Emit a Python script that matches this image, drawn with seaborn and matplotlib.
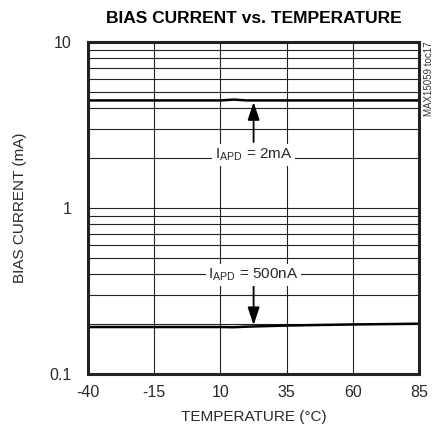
"""Bias current vs. temperature, log scale"""

import matplotlib
matplotlib.use("Agg")
import matplotlib.pyplot as plt
from matplotlib.ticker import FixedLocator, NullFormatter, LogLocator
import seaborn as sns
import pandas as pd

temps = [-40, -15, 10, 15, 20, 35, 60, 85]
bias_2ma = [4.45, 4.45, 4.45, 4.5, 4.45, 4.45, 4.45, 4.45]
bias_500na = [0.192, 0.192, 0.192, 0.1915, 0.193, 0.196, 0.199, 0.201]
x_ticks = [-40, -15, 10, 35, 60, 85]
y_ticks = [0.1, 1, 10]
y_tick_labels = ["0.1", "1", "10"]

df = pd.DataFrame({
    "temp": temps * 2,
    "bias": bias_2ma + bias_500na,
    "series": ["2mA"] * len(temps) + ["500nA"] * len(temps),
})

sns.set_theme(style="white")
plt.rcParams["font.family"] = ["Liberation Sans", "DejaVu Sans"]
plt.rcParams["mathtext.fontset"] = "custom"
plt.rcParams["mathtext.rm"] = "Liberation Sans"
plt.rcParams["axes.unicode_minus"] = False
txt = "#2a2a2a"

fig = plt.figure(figsize=(4.38, 4.38), dpi=100)
ax = fig.add_axes([0.201, 0.146, 0.756, 0.758])

sns.lineplot(data=df, x="temp", y="bias", units="series", estimator=None,
             color="black", linewidth=1.8, ax=ax, legend=False)

ax.set_yscale("log")
ax.set_xlim(-40, 85)
ax.set_ylim(0.1, 10)
ax.xaxis.set_major_locator(FixedLocator(x_ticks))
ax.set_xticklabels([str(t) for t in x_ticks])
ax.yaxis.set_major_locator(FixedLocator(y_ticks))
ax.set_yticklabels(y_tick_labels)
ax.yaxis.set_minor_locator(LogLocator(base=10, subs=range(2, 10)))
ax.yaxis.set_minor_formatter(NullFormatter())
ax.grid(True, which="both", color="#222222", linewidth=0.8)
ax.set_axisbelow(True)
ax.tick_params(which="both", length=0, labelsize=11.5, colors=txt)
ax.tick_params(axis="y", pad=12)
ax.tick_params(axis="x", pad=8)
for s in ax.spines.values():
    s.set_linewidth(2.2)
    s.set_color("#222222")

ax.set_xlabel("TEMPERATURE (°C)", fontsize=11, color=txt, labelpad=7)
ax.set_ylabel("BIAS CURRENT (mA)", fontsize=11, color=txt, labelpad=16)
fig.text(0.579, 0.958, "BIAS CURRENT vs. TEMPERATURE", ha="center", va="center",
         fontsize=12.5, fontweight="bold", color="black")
fig.text(0.979, 0.82, "MAX15059 toc17", rotation=90, ha="center", va="center",
         fontsize=7, color="#333333")

arrow = dict(arrowstyle="-|>,head_width=0.3,head_length=0.9",
             color="black", lw=1.3, shrinkA=0, shrinkB=0)
ax.annotate("", xy=(22.5, 4.35), xytext=(22.5, 2.5), arrowprops=arrow)
ax.annotate("", xy=(22.5, 0.197), xytext=(22.5, 0.343), arrowprops=arrow)
box = dict(facecolor="white", edgecolor="none", pad=2)
ax.text(22.5, 2.09, r"I$_{\mathrm{APD}}$ = 2mA", ha="center", va="center",
        fontsize=11, color=txt, bbox=box)
ax.text(22.5, 0.395, r"I$_{\mathrm{APD}}$ = 500nA", ha="center", va="center",
        fontsize=11, color=txt, bbox=box)

fig.savefig("out.png", dpi=100)
